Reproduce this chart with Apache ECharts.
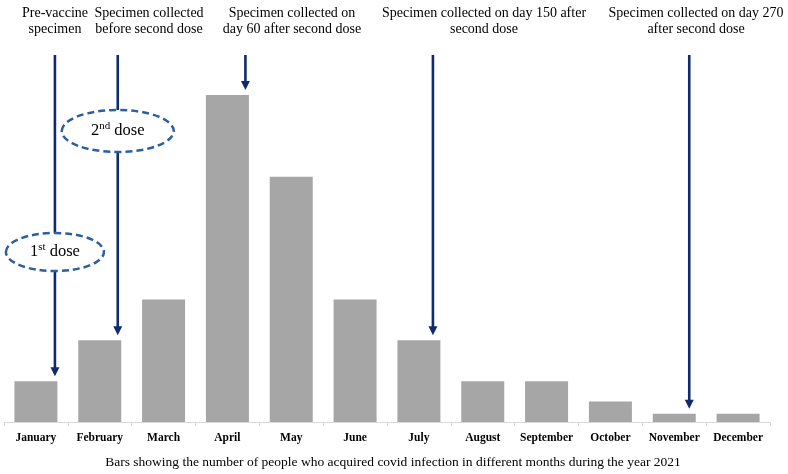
<!DOCTYPE html>
<html>
<head>
<meta charset="utf-8">
<script src="https://cdn.jsdelivr.net/npm/echarts@6/dist/echarts.min.js"></script>
<style>html,body{margin:0;padding:0;background:#fff}#c{width:788px;height:474px}</style>
</head>
<body>
<div id="c"></div>
<script>
const months = ['January','February','March','April','May','June','July','August','September','October','November','December'];
const cases = [10, 20, 30, 80, 60, 30, 20, 10, 10, 5, 2, 2];
const caption = 'Bars showing the number of people who acquired covid infection in different months during the year 2021';
const specimenMonths = [0, 1, 3, 6, 10];
const specimenText = [
  ['Pre-vaccine', 'specimen'],
  ['Specimen collected', 'before second dose'],
  ['Specimen collected on', 'day 60 after second dose'],
  ['Specimen collected on day 150 after', 'second dose'],
  ['Specimen collected on day 270', 'after second dose']
];
const doseMonths = [0, 1];
const doseOrdinals = ['1', '2'];
const doseSuffixes = ['st', 'nd'];

// layout (pixel) settings for annotations, kept apart from the data
const arrowOffsetX = [19, 18, 18, 14, 15];
const textCenterX = [55, 149, 292, 484, 696];
const doseEllipse = [{cy: 252, rx: 49, ry: 19}, {cy: 131, rx: 56, ry: 21}];

const serif = '"Liberation Serif", "Times New Roman", serif';
const chart = echarts.init(document.getElementById('c'));
chart.setOption({
  animation: false,
  grid: {left: 4, right: 18, top: 95, bottom: 52},
  xAxis: {
    type: 'category', data: months,
    axisLine: {lineStyle: {color: '#d9d9d9', width: 1}},
    axisTick: {show: true, length: 4, lineStyle: {color: '#d9d9d9'}},
    axisLabel: {color: '#000', fontFamily: serif, fontWeight: 'bold', fontSize: 11.5, margin: 10, interval: 0}
  },
  yAxis: {type: 'value', min: 0, max: 80, show: false, splitLine: {show: false}},
  series: [{type: 'bar', data: cases, barWidth: 43, itemStyle: {color: '#a6a6a6'}}]
});

const navy = '#0f2b6e';
const dashBlue = '#2b5fa0';
const g = [];
const arrowTop = 55;
specimenMonths.forEach((m, k) => {
  const p = chart.convertToPixel({seriesIndex: 0}, [m, cases[m]]);
  const x = p[0] + arrowOffsetX[k];
  const tip = p[1] - 5;
  const di = doseMonths.indexOf(m);
  if (di >= 0) {
    const e = doseEllipse[di];
    g.push({type: 'line', shape: {x1: x, y1: arrowTop, x2: x, y2: e.cy - e.ry}, style: {stroke: navy, lineWidth: 2.6}});
    g.push({type: 'line', shape: {x1: x, y1: e.cy + e.ry, x2: x, y2: tip - 8}, style: {stroke: navy, lineWidth: 2.6}});
    g.push({type: 'ellipse', shape: {cx: x, cy: e.cy, rx: e.rx, ry: e.ry},
      style: {fill: '#fff', stroke: dashBlue, lineWidth: 2.5, lineDash: [7, 4]}});
    g.push({type: 'text', x: x, y: e.cy, style: {
      text: '{a|' + doseOrdinals[di] + '}{s|' + doseSuffixes[di] + '}{a| dose}', align: 'center', verticalAlign: 'middle',
      rich: {a: {fontFamily: serif, fontSize: 16.5, fill: '#000'}, s: {fontFamily: serif, fontSize: 11, fill: '#000', padding: [0, 0, 9, 0]}}
    }});
  } else {
    g.push({type: 'line', shape: {x1: x, y1: arrowTop, x2: x, y2: tip - 8}, style: {stroke: navy, lineWidth: 2.6}});
  }
  g.push({type: 'polygon', shape: {points: [[x - 4.5, tip - 9], [x + 4.5, tip - 9], [x, tip]]}, style: {fill: navy}});
  specimenText[k].forEach((t, i) => {
    g.push({type: 'text', x: textCenterX[k], y: 13 + i * 16, style: {text: t, align: 'center', verticalAlign: 'middle',
      fontFamily: serif, fontSize: 14, fill: '#000'}});
  });
});
g.push({type: 'text', x: 393, y: 462, style: {text: caption, align: 'center', verticalAlign: 'middle',
  fontFamily: serif, fontSize: 13.5, fill: '#000'}});
chart.setOption({graphic: g});
</script>
</body>
</html>
